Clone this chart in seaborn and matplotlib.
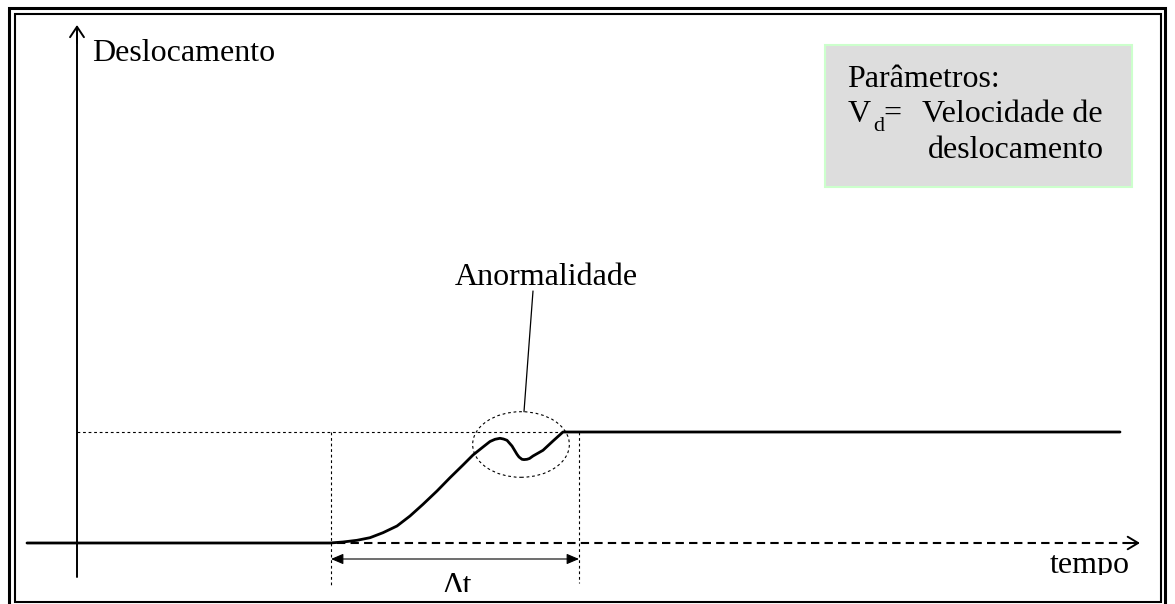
import matplotlib
matplotlib.use("Agg")
import matplotlib.pyplot as plt
import seaborn as sns
import pandas as pd
from matplotlib.patches import Rectangle, Ellipse

# Data: displacement curve (time, displacement, 1 unit = 100 px)
tempo = [-0.50, 2.53, 2.66, 2.80, 2.93, 3.06, 3.20, 3.33, 3.46, 3.60, 3.73, 3.86,
         3.96, 4.06, 4.13, 4.18, 4.23, 4.265, 4.30, 4.35, 4.40, 4.42, 4.45, 4.47,
         4.50, 4.525, 4.56, 4.66, 4.76, 4.86, 10.43]
desloc = [0.00, 0.00, 0.01, 0.027, 0.053, 0.103, 0.17, 0.27, 0.387, 0.52, 0.653, 0.78,
          0.88, 0.96, 1.015, 1.037, 1.047, 1.04, 1.027, 0.97, 0.887, 0.86, 0.837, 0.834,
          0.837, 0.845, 0.87, 0.927, 1.02, 1.11, 1.11]
nivel = 1.11            # final displacement level
t_inicio = 2.54         # start of the Δt interval
t_fim = 5.02            # end of the Δt interval
anomalia = (4.44, 0.985, 0.967, 0.656)   # centre t, centre d, width, height

df = pd.DataFrame({"tempo": tempo, "deslocamento": desloc})

sns.set_style("white")
plt.rcParams["font.family"] = ["Liberation Serif", "DejaVu Serif"]
plt.rcParams["text.color"] = "black"

fig = plt.figure(figsize=(11.75, 6.04), dpi=100)
ax = fig.add_axes([0, 0, 1, 1])

fs = 23

# double frame
ax.add_patch(Rectangle((-0.685, -0.75), 11.565, 6.095, fill=False, lw=2.2, ec="black", clip_on=False))
ax.add_patch(Rectangle((-0.625, -0.585), 11.46, 5.875, fill=False, lw=1.5, ec="black", clip_on=False))

# axes of the sketch
ax.plot([0, 0], [-0.34, 5.10], color="black", lw=1.4)
ax.annotate("", xy=(0, 5.18), xytext=(0, 5.0),
            arrowprops=dict(arrowstyle="->,head_length=0.75,head_width=0.5", lw=1.4,
                            color="black", shrinkA=0, shrinkB=0, mutation_scale=10))
ax.plot([2.6, 10.58], [0, 0], color="black", lw=1.5, ls=(0, (4, 2.5)))
ax.annotate("", xy=(10.63, 0), xytext=(10.5, 0),
            arrowprops=dict(arrowstyle="->,head_length=0.75,head_width=0.45", lw=1.4,
                            color="black", shrinkA=0, shrinkB=0, mutation_scale=10))

# guide lines
dot = (0, (2.5, 2.5))
ax.plot([0, tempo[-2]], [nivel, nivel], color="black", lw=0.8, ls=dot)
ax.plot([t_inicio, t_inicio], [nivel, -0.42], color="black", lw=0.8, ls=dot)
ax.plot([t_fim, t_fim], [nivel, -0.40], color="black", lw=0.8, ls=dot)

# displacement curve
sns.lineplot(data=df, x="tempo", y="deslocamento", sort=False, estimator=None,
             color="black", lw=2.0, solid_joinstyle="round", solid_capstyle="round", ax=ax)
ax.set_xlim(-0.77, 10.98)
ax.set_ylim(-0.61, 5.43)
ax.axis("off")

# Δt arrow
ax.annotate("", xy=(t_fim, -0.16), xytext=(t_inicio, -0.16),
            arrowprops=dict(arrowstyle="<|-|>,head_length=0.75,head_width=0.32", lw=0.8,
                            color="black", shrinkA=0, shrinkB=0, mutation_scale=10))

# anomaly ellipse and leader
cx, cy, w, h = anomalia
ax.add_patch(Ellipse((cx, cy), w, h, fill=False, lw=0.8, ls=dot, ec="black"))
ax.plot([4.47, 4.56], [cy + h / 2, 2.52], color="black", lw=0.9)
ax.text(3.78, 2.58, "Anormalidade", fontsize=fs, va="baseline", ha="left")

# labels (the lower ones are cut by the frame in the original)
ax.text(0.15, 4.82, "Deslocamento", fontsize=fs, va="baseline", ha="left")
tt = ax.text(9.73, -0.30, "tempo", fontsize=fs, va="baseline", ha="left", clip_on=True)
tt.set_clip_path(Rectangle((9.0, -0.32), 2.0, 1.0, transform=ax.transData))
td = ax.text(3.66, -0.51, "Δt", fontsize=fs, va="baseline", ha="left", clip_on=True)
td.set_clip_path(Rectangle((3.0, -0.49), 2.0, 1.0, transform=ax.transData))

# parameter box
ax.add_patch(Rectangle((7.48, 3.56), 3.07, 1.42, fc="#DDDDDD", ec="#CCFFCC", lw=1.5))
ax.text(7.70, 4.56, "Parâmetros:", fontsize=fs, va="baseline", ha="left")
ax.text(7.71, 4.21, "V", fontsize=fs, va="baseline", ha="left")
ax.text(7.96, 4.12, "d", fontsize=16, va="baseline", ha="left")
ax.text(8.06, 4.21, "=", fontsize=fs, va="baseline", ha="left")
ax.text(8.45, 4.21, "Velocidade de", fontsize=fs, va="baseline", ha="left")
ax.text(8.51, 3.85, "deslocamento", fontsize=fs, va="baseline", ha="left")

fig.savefig("out.png", dpi=100)
